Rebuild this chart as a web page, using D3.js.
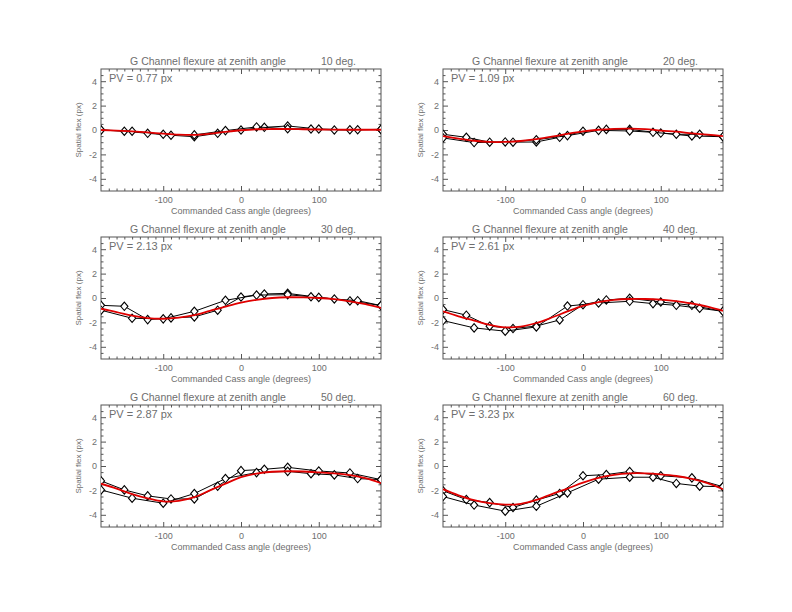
<!DOCTYPE html>
<html>
<head>
<meta charset="utf-8">
<script src="https://cdn.jsdelivr.net/npm/d3@7"></script>
<style>
  body { margin: 0; background: #fff; }
  text { font-family: "Liberation Sans", Arial, sans-serif; fill: #6e6e6e; }
</style>
</head>
<body>
<svg width="792" height="612"></svg>
<script>
// zenith angles and peak-to-valley labels, one per panel
const zenith = [10, 20, 30, 40, 50, 60];
const pvText = ["0.77", "1.09", "2.13", "2.61", "2.87", "3.23"];

// commanded Cass angles of the two measured sweeps
const anglesA = [-180, -150, -120, -90, -60, -30, 0, 30, 60, 100, 140, 180];
const anglesB = [-180, -140, -100, -60, -20, 20, 60, 90, 120, 150, 180];
// angles where the red fit is sampled
const fitAngles = [-180, -160, -140, -120, -100, -80, -60, -40, -20, 0, 20, 40, 60, 80, 100, 120, 140, 160, 180];

// spatial flex (px), sweep A, per zenith angle
const sweepA = [
  [0.0, -0.1, -0.27, -0.43, -0.55, -0.27, 0.0, 0.22, 0.33, 0.08, 0.02, 0.05],
  [-0.35, -0.6, -1.0, -1.0, -0.98, -0.6, -0.1, 0.05, 0.05, -0.25, -0.49, -0.55],
  [-0.6, -0.68, -1.77, -1.63, -1.55, -1.0, 0.08, 0.33, 0.38, 0.05, -0.24, -0.62],
  [-0.95, -1.41, -2.31, -2.5, -2.3, -1.8, -0.55, -0.16, -0.03, -0.33, -0.6, -1.09],
  [-1.22, -1.96, -2.45, -2.7, -2.7, -1.66, -0.38, -0.27, -0.11, -0.41, -0.57, -1.12],
  [-2.03, -2.75, -3.0, -3.4, -2.8, -2.25, -0.8, -0.7, -0.45, -0.8, -0.97, -1.7]
];
// spatial flex (px), sweep B, per zenith angle
const sweepB = [
  [0.0, -0.1, -0.35, -0.4, -0.05, 0.25, 0.1, 0.08, 0.0, 0.02, 0.05],
  [-0.65, -1.03, -0.98, -0.8, -0.46, -0.03, -0.08, -0.19, -0.35, -0.35, -0.55],
  [-1.0, -1.66, -1.71, -1.09, -0.19, 0.24, 0.27, 0.1, -0.08, -0.22, -0.62],
  [-1.85, -2.45, -2.72, -2.37, -0.66, -0.41, -0.27, -0.46, -0.6, -0.84, -1.09],
  [-1.96, -2.64, -3.05, -2.26, -1.03, -0.54, -0.44, -0.63, -0.73, -1.03, -1.12],
  [-2.5, -3.2, -3.7, -3.3, -2.2, -1.08, -0.92, -0.92, -1.43, -1.65, -1.7]
];
// red fitted curve, sampled at fitAngles
const fitCurve = [
  [0.0, -0.05, -0.12, -0.2, -0.3, -0.38, -0.4, -0.3, -0.15, -0.02, 0.06, 0.08, 0.08, 0.06, 0.04, 0.03, 0.02, 0.02, 0.02],
  [-0.5, -0.7, -0.88, -0.98, -0.98, -0.9, -0.75, -0.55, -0.32, -0.12, 0.02, 0.1, 0.12, 0.08, -0.05, -0.14, -0.27, -0.38, -0.5],
  [-0.88, -1.15, -1.45, -1.65, -1.7, -1.6, -1.4, -1.05, -0.7, -0.38, -0.15, 0.0, 0.06, 0.05, 0.0, -0.1, -0.27, -0.5, -0.82],
  [-1.1, -1.5, -1.85, -2.2, -2.4, -2.35, -2.05, -1.6, -1.1, -0.65, -0.33, -0.15, -0.08, -0.08, -0.13, -0.25, -0.45, -0.7, -1.05],
  [-1.45, -1.85, -2.3, -2.65, -2.9, -2.85, -2.55, -2.0, -1.45, -0.92, -0.62, -0.47, -0.43, -0.45, -0.52, -0.6, -0.75, -1.0, -1.4],
  [-1.9, -2.4, -2.8, -3.05, -3.17, -3.1, -2.78, -2.3, -1.85, -1.36, -0.97, -0.72, -0.6, -0.6, -0.68, -0.82, -1.06, -1.4, -1.9]
];

const xMajor = [-100, 0, 100];
const yMajor = [-4, -2, 0, 2, 4];

const svg = d3.select("svg");
const panelW = 280, panelH = 122;
const lefts = [101, 443], tops = [69, 237, 405];

// open diamond, a bit taller than wide
const diamondPath = "M0,-4.2L3.6,0L0,4.2L-3.6,0Z";

zenith.forEach((z, i) => {
    const left = lefts[i % 2], top = tops[Math.floor(i / 2)];
    const g = svg.append("g").attr("transform", `translate(${left},${top})`);

    const x = d3.scaleLinear().domain([-180, 180]).range([0, panelW]);
    const y = d3.scaleLinear().domain([-5, 5]).range([panelH, 0]);

    svg.append("clipPath").attr("id", "clip" + i)
        .append("rect").attr("width", panelW).attr("height", panelH);

    const xMinor = d3.range(-170, 180, 10).filter(v => !xMajor.includes(v));
    const yMinor = d3.range(-4.5, 5, 0.5).filter(v => !yMajor.includes(v));

    // major + minor ticks on all four sides, pointing inward
    const axes = [
        [d3.axisBottom(x).tickValues(xMajor).tickSizeInner(-5).tickPadding(6).tickFormat(d => String(d)), `translate(0,${panelH})`],
        [d3.axisBottom(x).tickValues(xMinor).tickSizeInner(-2.5).tickFormat(""), `translate(0,${panelH})`],
        [d3.axisTop(x).tickValues(xMajor).tickSizeInner(-5).tickFormat(""), null],
        [d3.axisTop(x).tickValues(xMinor).tickSizeInner(-2.5).tickFormat(""), null],
        [d3.axisLeft(y).tickValues(yMajor).tickSizeInner(-5).tickPadding(4).tickFormat(d => String(d)), null],
        [d3.axisLeft(y).tickValues(yMinor).tickSizeInner(-2.5).tickFormat(""), null],
        [d3.axisRight(y).tickValues(yMajor).tickSizeInner(-5).tickFormat(""), `translate(${panelW},0)`],
        [d3.axisRight(y).tickValues(yMinor).tickSizeInner(-2.5).tickFormat(""), `translate(${panelW},0)`]
    ];
    axes.forEach(([ax, tr]) => {
        const a = g.append("g").call(ax.tickSizeOuter(0));
        if (tr) a.attr("transform", tr);
        a.select(".domain").remove();
        a.selectAll("line").attr("stroke", "#555");
        a.selectAll("text").attr("font-size", 9).attr("fill", "#6e6e6e")
            .attr("font-family", '"Liberation Sans", Arial, sans-serif');
    });

    g.append("rect")
        .attr("width", panelW).attr("height", panelH)
        .attr("fill", "none").attr("stroke", "#555").attr("stroke-width", 1);

    // titles and labels
    g.append("text").attr("x", panelW / 2 - 33).attr("y", -4)
        .attr("text-anchor", "middle").attr("font-size", 10.5)
        .text("G Channel flexure at zenith angle");
    g.append("text").attr("x", panelW / 2 + 80).attr("y", -4)
        .attr("text-anchor", "start").attr("font-size", 10.5)
        .text(`${z} deg.`);
    g.append("text").attr("x", 8).attr("y", 13)
        .attr("font-size", 11).text(`PV = ${pvText[i]} px`);
    g.append("text").attr("x", panelW / 2).attr("y", panelH + 23)
        .attr("text-anchor", "middle").attr("font-size", 9)
        .text("Commanded Cass angle (degrees)");
    g.append("text")
        .attr("transform", `translate(-20,${panelH / 2}) rotate(-90)`)
        .attr("text-anchor", "middle").attr("font-size", 8)
        .text("Spatial flex (px)");

    const plot = g.append("g").attr("clip-path", `url(#clip${i})`);
    const line = d3.line().x(d => x(d[0])).y(d => y(d[1]));

    [[anglesA, sweepA[i]], [anglesB, sweepB[i]]].forEach(([angs, vals]) => {
        const pts = angs.map((a, k) => [a, vals[k]]);
        plot.append("path").datum(pts)
            .attr("d", line).attr("fill", "none")
            .attr("stroke", "#000").attr("stroke-width", 1);
        plot.selectAll(null).data(pts).enter().append("path")
            .attr("d", diamondPath)
            .attr("transform", d => `translate(${x(d[0])},${y(d[1])})`)
            .attr("fill", "#fff").attr("stroke", "#000").attr("stroke-width", 1.1);
    });

    const fitPts = fitAngles.map((a, k) => [a, fitCurve[i][k]]);
    plot.append("path").datum(fitPts)
        .attr("d", line.curve(d3.curveCatmullRom))
        .attr("fill", "none").attr("stroke", "#e00000").attr("stroke-width", 1.8);
});
</script>
</body>
</html>
